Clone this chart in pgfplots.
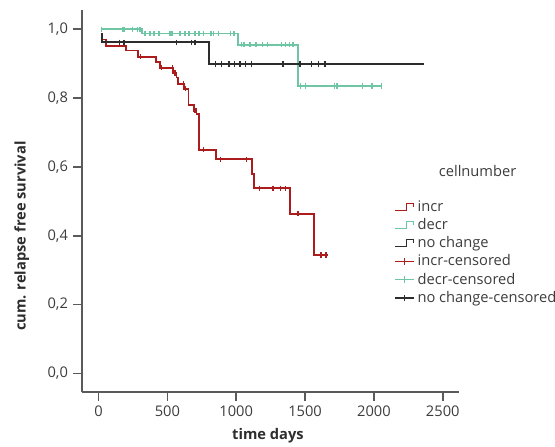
\documentclass[border=0pt]{standalone}
\usepackage{fontspec}
\setmainfont{Open Sans}
\usepackage{pgfplots}
\pgfplotsset{compat=1.18}

\definecolor{rcol}{RGB}{172,28,28}
\definecolor{gcol}{RGB}{110,198,164}
\definecolor{kcol}{RGB}{45,45,45}
\definecolor{axcol}{RGB}{90,90,90}
\definecolor{txtcol}{RGB}{60,60,60}

\pgfplotsset{
  stepicon/.style={legend image code/.code={
      \draw[#1, line width=0.9pt] (0cm,-2.5pt) -- (0.3cm,-2.5pt) -- (0.3cm,2.5pt)
        -- (0.48cm,2.5pt) -- (0.48cm,0pt);}},
  censicon/.style={legend image code/.code={
      \draw[#1, line width=0.9pt] (0cm,0pt) -- (0.5cm,0pt);
      \draw[#1, line width=0.9pt] (0.25cm,-2.5pt) -- (0.25cm,2.5pt);}},
}

\begin{document}
\fontsize{11}{13}\selectfont
\begin{tikzpicture}
  \begin{axis}[
    at={(61.3pt,40.5pt)}, anchor=south west,
    scale only axis, width=282.75pt, height=286.5pt,
    xmin=-122, xmax=2616, ymin=-0.054, ymax=1.056,
    axis lines=left,
    axis line style={-, axcol, line width=1.2pt},
    tick style={axcol, line width=1.2pt},
    tick align=outside, major tick length=6.5pt,
    xtick={0,500,1000,1500,2000,2500},
    ytick={0,0.2,0.4,0.6,0.8,1},
    ticklabel style={font=\fontsize{11}{13}\selectfont, text=txtcol},
    /pgf/number format/assume math mode=true,
    xticklabel style={/pgf/number format/1000 sep={}},
    yticklabel style={/pgf/number format/.cd, fixed, fixed zerofill, precision=1, use comma},
    xlabel={\bfseries time days},
    ylabel={\bfseries cum. relapse free survival},
    xlabel style={at={(axis description cs:0.494,-0.115)}, anchor=center,
      font=\fontsize{11}{13}\selectfont, text=kcol},
    ylabel style={at={(axis description cs:-0.159,0.408)}, anchor=center,
      font=\fontsize{11}{13}\selectfont, text=kcol},
    legend style={at={(axis description cs:0.826,0.513)}, anchor=north west,
      draw=none, fill=none, font=\fontsize{11}{13}\selectfont, text=txtcol,
      row sep=-0.3pt, inner sep=1pt},
    legend cell align=left,
    clip=false,
  ]
    % step curves
    \addplot[rcol, line width=1.3pt, const plot, stepicon=rcol] coordinates {
      (20,0.985)(23,0.970)(54,0.951)(197,0.938)(289,0.920)(415,0.904)
      (446,0.888)(543,0.873)(567,0.860)(575,0.841)(623,0.827)(654,0.781)
      (693,0.763)(712,0.754)(727,0.737)(732,0.650)(855,0.622)(1116,0.580)
      (1131,0.538)(1390,0.464)(1566,0.344)(1668,0.344)
    };
    \addlegendentry{incr}
    \addplot[gcol, line width=1.3pt, const plot, stepicon=gcol] coordinates {
      (16,1.0)(316,0.9875)(1012,0.955)(1448,0.835)(2057,0.835)
    };
    \addlegendentry{decr}
    \addplot[kcol, line width=1.3pt, const plot, stepicon=kcol] coordinates {
      (20,0.987)(23,0.962)(804,0.899)(2364,0.899)
    };
    \addlegendentry{no change}
    % censored cases
    \addplot[rcol, line width=1pt, only marks, mark=|, mark size=2pt, censicon=rcol] coordinates {
      (306,0.920)(459,0.888)(536,0.888)(555,0.873)(617,0.841)(632,0.827)
      (700,0.763)(710,0.763)(764,0.650)(887,0.622)(1075,0.622)
      (1170,0.538)(1266,0.538)(1322,0.538)(1356,0.538)(1448,0.464)
      (1615,0.344)(1651,0.344)
    };
    \addlegendentry{incr-censored}
    \addplot[gcol, line width=1pt, only marks, mark=|, mark size=2pt, censicon=gcol] coordinates {
      (20,1.0)(173,1.0)(185,1.0)(248,1.0)(282,1.0)(301,1.0)
      (337,0.9875)(374,0.9875)(403,0.9875)(439,0.9875)(519,0.9875)(534,0.9875)
      (591,0.9875)(628,0.9875)(657,0.9875)(700,0.9875)(729,0.9875)(760,0.9875)
      (816,0.9875)(833,0.9875)(872,0.9875)(959,0.9875)(983,0.9875)
      (1039,0.955)(1056,0.955)(1099,0.955)(1143,0.955)(1189,0.955)(1228,0.955)
      (1329,0.955)(1356,0.955)(1385,0.955)(1412,0.955)
      (1467,0.835)(1501,0.835)(1716,0.835)(1733,0.835)(1917,0.835)(1985,0.835)(2057,0.835)
    };
    \addlegendentry{decr-censored}
    \addplot[kcol, line width=1pt, only marks, mark=|, mark size=2pt, censicon=kcol] coordinates {
      (151,0.962)(185,0.962)(565,0.962)(676,0.962)(700,0.962)
      (850,0.899)(894,0.899)(947,0.899)(986,0.899)(1027,0.899)(1068,0.899)
      (1112,0.899)(1339,0.899)(1462,0.899)(1549,0.899)(1598,0.899)(1644,0.899)
    };
    \addlegendentry{no change-censored}
    \node[text=txtcol, font=\fontsize{11}{13}\selectfont] at (axis description cs:1.05,0.579) {cellnumber};
  \end{axis}
  \pgfresetboundingbox
  \path (0pt,0pt) rectangle (416.25pt,334.5pt);
\end{tikzpicture}
\end{document}
